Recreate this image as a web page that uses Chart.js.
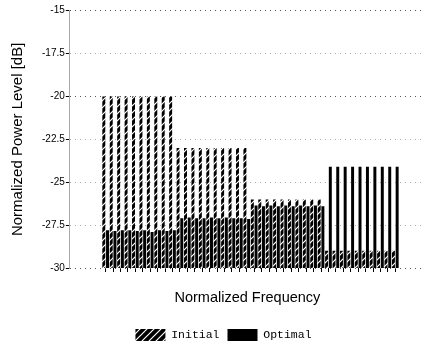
<!DOCTYPE html>
<html><head><meta charset="utf-8">
<script src="https://cdn.jsdelivr.net/npm/chart.js@4/dist/chart.umd.min.js"></script>
<style>html,body{margin:0;padding:0;background:#fff;}</style>
</head><body>
<canvas id="c" width="425" height="342"></canvas>
<script>
// ---- data ----
const categories = [1,2,3,4,5,6,7,8,9,10,11,12,13,14,15,16,17,18,19,20,21,22,23,24,25,26,27,28,29,30,31,32,33,34,35,36,37,38,39,40];
const initialLevels = [
  -20,-20,-20,-20,-20,-20,-20,-20,-20,-20,
  -23,-23,-23,-23,-23,-23,-23,-23,-23,-23,
  -26,-26,-26,-26,-26,-26,-26,-26,-26,-26,
  -29,-29,-29,-29,-29,-29,-29,-29,-29,-29
];
const optimalLevels = [
  -27.8,-27.85,-27.8,-27.8,-27.85,-27.8,-27.9,-27.8,-27.85,-27.8,
  -27.1,-27.05,-27.1,-27.1,-27.05,-27.1,-27.05,-27.1,-27.1,-27.15,
  -26.35,-26.4,-26.35,-26.4,-26.35,-26.4,-26.35,-26.4,-26.35,-26.4,
  -24.1,-24.1,-24.1,-24.1,-24.1,-24.1,-24.1,-24.1,-24.1,-24.1
];
const seriesNames = ['Initial', 'Optimal'];
const yAxisMin = -30, yAxisMax = -15, yStep = 2.5;
const xTitle = 'Normalized Frequency';
const yTitle = 'Normalized Power Level [dB]';

function makeHatch() {
  const s = 7, p = document.createElement('canvas');
  p.width = s; p.height = s;
  const g = p.getContext('2d');
  g.fillStyle = '#000'; g.fillRect(0, 0, s, s);
  g.strokeStyle = '#fff'; g.lineWidth = 1.2;
  g.beginPath();
  g.moveTo(-1, s + 1); g.lineTo(s + 1, -1);
  g.moveTo(-1, 1); g.lineTo(1, -1);
  g.moveTo(s - 1, s + 1); g.lineTo(s + 1, s - 1);
  g.stroke();
  return g.createPattern(p, 'repeat');
}
const hatch = makeHatch();

const toBars = vals => vals.map((v, i) => ({x: categories[i], y: [yAxisMin, v]}));

const shiftLegend = {
  id: 'shiftLegend',
  afterLayout(chart) {
    const lg = chart.legend;
    if (lg) { lg.left += 11; lg.right += 11; lg.top += 9; lg.bottom += 9; }
  }
};

new Chart(document.getElementById('c'), {
  type: 'bar',
  data: {
    datasets: [
      {label: seriesNames[0], data: toBars(initialLevels), backgroundColor: hatch, borderWidth: 0},
      {label: seriesNames[1], data: toBars(optimalLevels), backgroundColor: '#000', borderWidth: 0}
    ]
  },
  options: {
    responsive: false,
    animation: false,
    devicePixelRatio: 1,
    layout: {padding: {left: 0, right: 0, top: 10.7, bottom: 0}},
    categoryPercentage: 1.0,
    barPercentage: 0.8,
    plugins: {
      tooltip: {enabled: false},
      legend: {
        position: 'bottom',
        labels: {
          boxWidth: 30, boxHeight: 12, padding: 8, color: '#000',
          font: {family: '"Liberation Mono", monospace', size: 11.5}
        }
      }
    },
    scales: {
      x: {
        type: 'linear',
        offset: false,
        min: categories[0] - 4.83,
        max: categories[categories.length - 1] + 4.0,
        afterBuildTicks: s => { s.ticks = categories.map(v => ({value: v})); },
        ticks: {display: false},
        grid: {display: true, offset: false, drawOnChartArea: false, drawTicks: true, tickLength: 4, tickColor: '#000', tickWidth: 1},
        border: {display: false},
        title: {display: true, text: xTitle, color: '#000',
          font: {family: '"Liberation Sans", Arial, sans-serif', size: 14.5},
          padding: {top: 17.3, bottom: 5.3}}
      },
      y: {
        min: yAxisMin, max: yAxisMax,
        ticks: {stepSize: yStep, color: '#000', padding: 1,
          font: {family: '"Liberation Sans", Arial, sans-serif', size: 10}},
        grid: {
          color: ctx => {
            const v = ctx.tick && ctx.tick.value;
            return (v === -15 || v === -30 || v === -20) ? '#555' : '#aaa';
          },
          tickColor: '#000', tickLength: 4, lineWidth: 1
        },
        border: {display: true, color: '#aaa', dash: [1, 4]},
        title: {display: true, text: yTitle, color: '#000',
          font: {family: '"Liberation Sans", Arial, sans-serif', size: 15},
          padding: {top: 9, bottom: 14}}
      }
    }
  },
  plugins: [shiftLegend]
});
</script>
</body></html>
